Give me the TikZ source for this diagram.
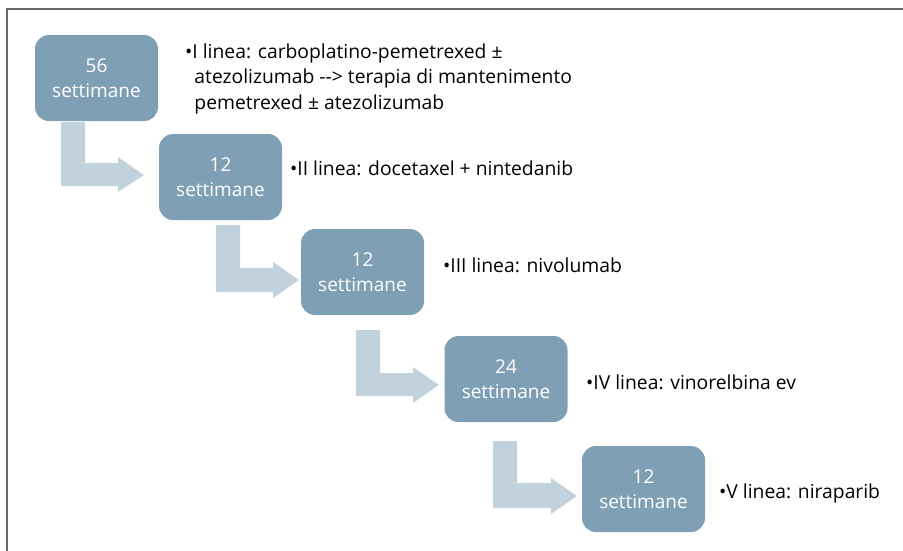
\documentclass[tikz,border=0pt]{standalone}
\usepackage{fontspec}
\setmainfont{Open Sans}
\definecolor{boxfill}{RGB}{126,159,180}
\definecolor{arrowfill}{RGB}{193,210,221}
\definecolor{framecol}{RGB}{105,105,105}
\begin{document}
\begin{tikzpicture}[x=1pt,y=-1pt,
  stage/.style={rectangle, rounded corners=14pt, fill=boxfill, text=white,
    minimum width=123pt, minimum height=86pt, align=center, inner sep=0pt,
    font=\fontsize{19}{25.5}\selectfont},
  note/.style={anchor=base west, align=left, inner sep=0pt, text=black,
    font=\fontsize{19.3}{25.5}\selectfont},
  bendarrow/.style={fill=arrowfill, draw=none}]
\useasboundingbox (0,0) rectangle (903,550);
\draw[framecol, line width=1.8pt] (7,551) -- (7,9) -- (904,9);

% bent arrows
\fill[bendarrow] (61,122) -- (85,122) -- (85,163) -- (118,163) -- (118,157) -- (144,175) -- (118,192) -- (118,186) -- (61,186) -- cycle;
\fill[bendarrow] (216,225) -- (240,225) -- (240,268) -- (273,268) -- (273,262) -- (299,280) -- (273,298) -- (273,292) -- (216,292) -- cycle;
\fill[bendarrow] (356,330) -- (380,330) -- (380,373) -- (413,373) -- (413,367) -- (439,385) -- (413,403) -- (413,396) -- (356,396) -- cycle;
\fill[bendarrow] (493,441) -- (517,441) -- (517,483) -- (551,483) -- (551,478) -- (577,496) -- (551,514) -- (551,508) -- (493,508) -- cycle;

% boxes
\node[stage] (b1) at (96.5,78) {56\\settimane};
\node[stage] (b2) at (220.5,177) {12\\settimane};
\node[stage] (b3) at (362.5,272) {12\\settimane};
\node[stage] (b4) at (506,379) {24\\settimane};
\node[stage] (b5) at (643.5,489) {12\\settimane};

% descriptions
\node[note] (t1) at (185,58) {\begin{tabular}[t]{@{}l@{}l@{}}•&I linea: carboplatino-pemetrexed ±\\ &\hspace{2pt}atezolizumab -{}-> terapia di mantenimento\\ &\hspace{2pt}pemetrexed ± atezolizumab\end{tabular}};
\node[note] (t2) at (290,175) {•II linea: docetaxel + nintedanib};
\node[note] (t3) at (443,272) {•III linea: nivolumab};
\node[note] (t4) at (586,389) {•IV linea: vinorelbina ev};
\node[note] (t5) at (719,498) {•V linea: niraparib};
\end{tikzpicture}
\end{document}
